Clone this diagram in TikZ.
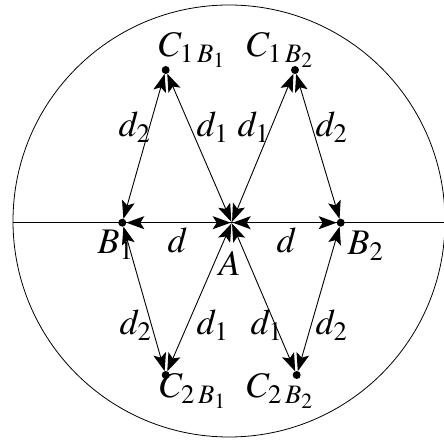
\documentclass[tikz,border=0pt]{standalone}
\usepackage{mathptmx}
\usepackage{tikz}
\usetikzlibrary{arrows.meta}

\begin{document}
\begin{tikzpicture}[x=0.5pt,y=-0.5pt,>={Stealth[length=9pt,width=6.5pt,inset=2pt]},
    vertex/.style={circle,fill,inner sep=0pt,minimum size=4pt,outer sep=0pt},
    link/.style={<->,line width=0.45pt},
    lab/.style={inner sep=0pt,anchor=base west,scale=1.8}]
    \useasboundingbox (0,0) rectangle (444,442);
    \clip (0,0) rectangle (444,442);
    % outer circle and axis
    \draw[line width=0.4pt] (229,221) circle[radius=216];
    \coordinate (w) at (13,222.7);
    \coordinate (e) at (446,222.7);
    \draw[line width=0.5pt] (w) -- (e);
    % points
    \node[vertex,minimum size=1pt] (a) at (231.7,222.7) {};
    \node[vertex] (b1) at (122.3,222.7) {};
    \node[vertex] (b2) at (340.7,222.7) {};
    \node[vertex] (c1b1) at (165.7,70) {};
    \node[vertex] (c1b2) at (295,70) {};
    \node[vertex] (c2b1) at (165.7,375) {};
    \node[vertex] (c2b2) at (296.7,375) {};
    % arrows
    \draw[link,line width=0.6pt] (b1) -- (a);
    \draw[link,line width=0.6pt] (a) -- (b2);
    \foreach \p/\q in {b1/c1b1,a/c1b1,a/c1b2,b2/c1b2,b1/c2b1,a/c2b1,a/c2b2,b2/c2b2}
    {
        \draw[link] (\p) -- (\q);
    }
    % names
    \node[lab] (lc1b1) at (158,57) {$C_{1\:B_1}$};
    \node[lab] (lc1b2) at (246,57) {$C_{1\:B_2}$};
    \node[lab] (lc2b1) at (159,398) {$C_{2\:B_1}$};
    \node[lab] (lc2b2) at (246,398) {$C_{2\:B_2}$};
    \node[lab] (lb1) at (97,254) {$B_1$};
    \node[lab] (lb2) at (347,255) {$B_2$};
    \node[lab] (la) at (218,276) {$A$};
    % distances
    \node[lab] (dl) at (167,253) {$d$};
    \node[lab] (dr) at (276,253) {$d$};
    \node[lab] (d2ul) at (118,137) {$d_2$};
    \node[lab] (d1ul) at (196,137) {$d_1$};
    \node[lab] (d1ur) at (237,137) {$d_1$};
    \node[lab] (d2ur) at (315,137) {$d_2$};
    \node[lab] (d2ll) at (119,335) {$d_2$};
    \node[lab] (d1ll) at (196,335) {$d_1$};
    \node[lab] (d1lr) at (250,335) {$d_1$};
    \node[lab] (d2lr) at (315,335) {$d_2$};
\end{tikzpicture}
\end{document}
